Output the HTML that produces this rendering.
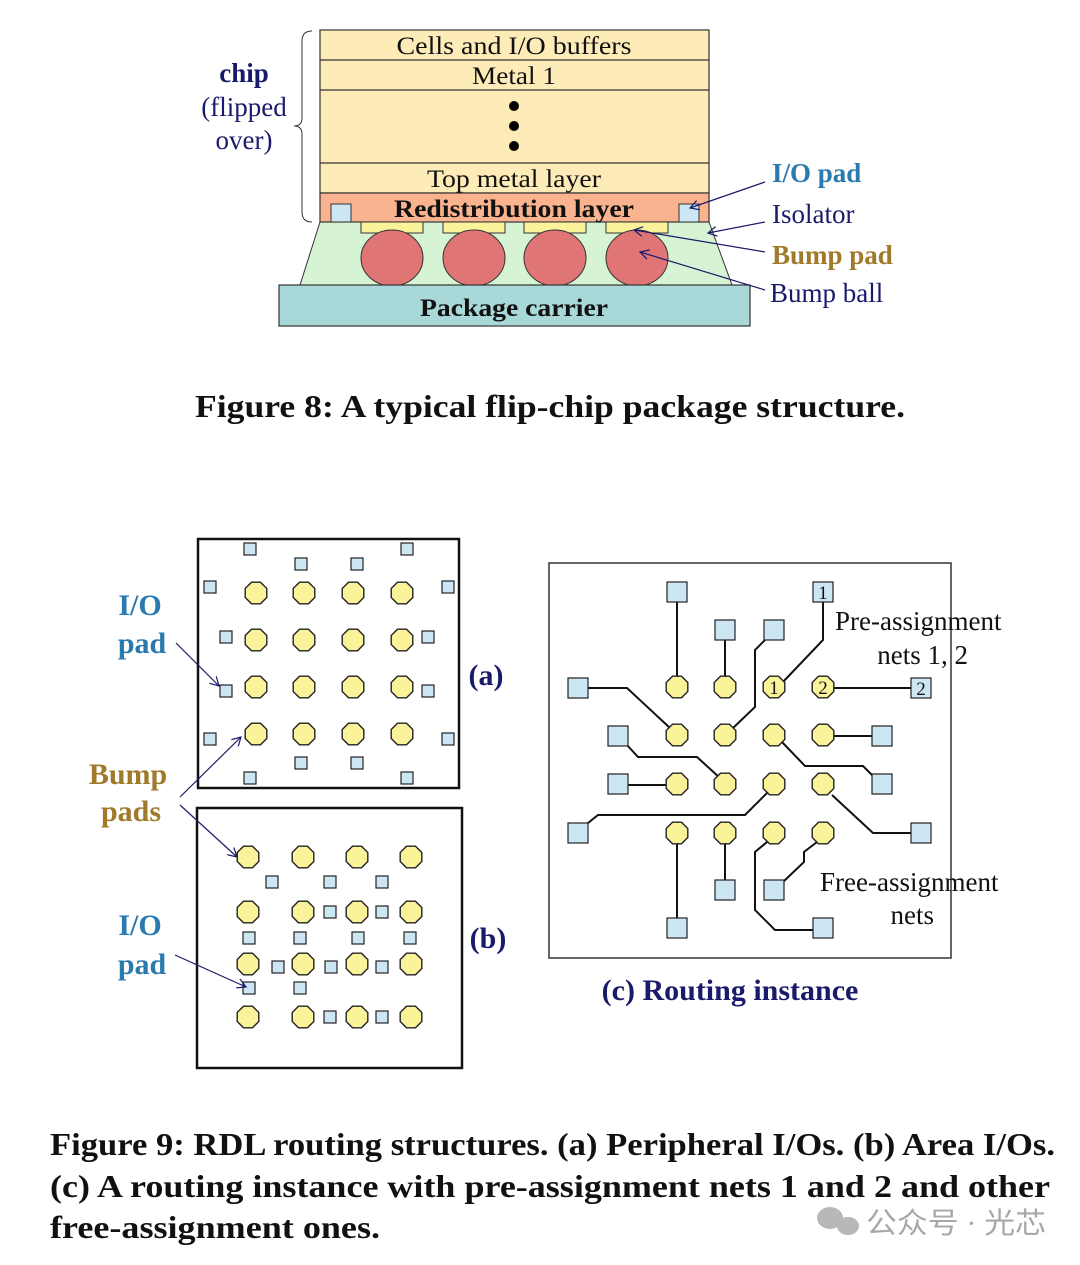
<!DOCTYPE html>
<html><head><meta charset="utf-8"><style>
html,body{margin:0;padding:0;background:#fff;}
svg{display:block;}
text{font-family:"Liberation Serif",serif;}
</style></head><body>
<svg width="1080" height="1265" viewBox="0 0 1080 1265" xmlns="http://www.w3.org/2000/svg">
<defs>
<polygon id="o" points="-4.5,-10.8 4.5,-10.8 10.8,-4.5 10.8,4.5 4.5,10.8 -4.5,10.8 -10.8,4.5 -10.8,-4.5" fill="#fbf39a" stroke="#222" stroke-width="1.4"/>
<rect id="s" x="-6" y="-6" width="12" height="12" fill="#cde6f4" stroke="#222" stroke-width="1.2"/>
<rect id="S" x="-10" y="-10" width="20" height="20" fill="#cde6f4" stroke="#222" stroke-width="1.2"/>
<marker id="ar" markerWidth="10" markerHeight="10" refX="9" refY="5" orient="auto" markerUnits="userSpaceOnUse"><path d="M0,0 L9,5 L0,10" fill="none" stroke="#1a1a6a" stroke-width="1.2"/></marker>
</defs>

<!-- Figure 8 -->
<polygon points="320,222 709,222 732,285 300,285" fill="#d6f3d3" stroke="#333" stroke-width="1"/>
<rect x="320" y="30" width="389" height="163" fill="#fdebb8" stroke="#333" stroke-width="1.2"/>
<line x1="320" y1="60" x2="709" y2="60" stroke="#333" stroke-width="1.2"/>
<line x1="320" y1="90" x2="709" y2="90" stroke="#333" stroke-width="1.2"/>
<line x1="320" y1="163" x2="709" y2="163" stroke="#333" stroke-width="1.2"/>
<rect x="320" y="193" width="389" height="29" fill="#f9b38f" stroke="#333" stroke-width="1.2"/>
<rect x="331" y="204" width="20" height="18" fill="#cde6f4" stroke="#333"/>
<rect x="679" y="204" width="20" height="18" fill="#cde6f4" stroke="#333"/>
<g fill="#fbf39a" stroke="#333">
<rect x="361" y="222" width="62" height="11"/><rect x="443" y="222" width="62" height="11"/>
<rect x="524" y="222" width="62" height="11"/><rect x="606" y="222" width="62" height="11"/>
</g>
<g fill="#e07575" stroke="#333">
<ellipse cx="392" cy="258" rx="31" ry="28"/><ellipse cx="474" cy="258" rx="31" ry="28"/>
<ellipse cx="555" cy="258" rx="31" ry="28"/><ellipse cx="637" cy="258" rx="31" ry="28"/>
</g>
<rect x="279" y="285" width="471" height="41" fill="#a8d8d8" stroke="#333" stroke-width="1.2"/>
<g font-size="25" text-anchor="middle" fill="#111">
<text x="514" y="54" textLength="235" lengthAdjust="spacingAndGlyphs">Cells and I/O buffers</text>
<text x="514" y="84" textLength="84" lengthAdjust="spacingAndGlyphs">Metal 1</text>
<text x="514" y="187" textLength="174" lengthAdjust="spacingAndGlyphs">Top metal layer</text>
<text x="514" y="217" font-weight="bold" textLength="240" lengthAdjust="spacingAndGlyphs">Redistribution layer</text>
<text x="514" y="316" font-weight="bold" textLength="188" lengthAdjust="spacingAndGlyphs">Package carrier</text>
</g>
<circle cx="514" cy="106" r="5" fill="#000"/><circle cx="514" cy="126" r="5" fill="#000"/><circle cx="514" cy="146" r="5" fill="#000"/>
<path d="M312,31 Q302,31 302,41 L302,118 Q302,126 294,126 Q302,126 302,134 L302,212 Q302,222 312,222" fill="none" stroke="#333" stroke-width="1"/>
<g font-size="27" text-anchor="middle" fill="#1a1a6a">
<text x="244" y="82" font-weight="bold">chip</text>
<text x="244" y="116">(flipped</text>
<text x="244" y="149">over)</text>
</g>
<g font-size="27">
<text x="772" y="182" font-weight="bold" fill="#2a7ab0">I/O pad</text>
<text x="772" y="223" fill="#1a1a6a">Isolator</text>
<text x="772" y="264" font-weight="bold" fill="#a07a2a">Bump pad</text>
<text x="770" y="302" fill="#1a1a6a">Bump ball</text>
</g>
<g stroke="#1a1a6a" stroke-width="1.2" fill="none" marker-end="url(#ar)">
<line x1="765" y1="182" x2="690" y2="208"/>
<line x1="765" y1="222" x2="708" y2="233"/>
<line x1="765" y1="252" x2="634" y2="230"/>
<line x1="765" y1="290" x2="640" y2="252"/>
</g>
<text x="195" y="417" font-size="32" font-weight="bold" fill="#111" textLength="710" lengthAdjust="spacingAndGlyphs">Figure 8: A typical flip-chip package structure.</text>

<!-- Figure 9 (a) -->
<rect x="198" y="539" width="261" height="249" fill="#fff" stroke="#111" stroke-width="2.5"/>
<g>
<use href="#o" x="256" y="593"/><use href="#o" x="304" y="593"/><use href="#o" x="353" y="593"/><use href="#o" x="402" y="593"/>
<use href="#o" x="256" y="640"/><use href="#o" x="304" y="640"/><use href="#o" x="353" y="640"/><use href="#o" x="402" y="640"/>
<use href="#o" x="256" y="687"/><use href="#o" x="304" y="687"/><use href="#o" x="353" y="687"/><use href="#o" x="402" y="687"/>
<use href="#o" x="256" y="734"/><use href="#o" x="304" y="734"/><use href="#o" x="353" y="734"/><use href="#o" x="402" y="734"/>
<use href="#s" x="250" y="549"/><use href="#s" x="407" y="549"/><use href="#s" x="301" y="564"/><use href="#s" x="357" y="564"/>
<use href="#s" x="210" y="587"/><use href="#s" x="448" y="587"/><use href="#s" x="226" y="637"/><use href="#s" x="428" y="637"/>
<use href="#s" x="226" y="691"/><use href="#s" x="428" y="691"/><use href="#s" x="210" y="739"/><use href="#s" x="448" y="739"/>
<use href="#s" x="301" y="763"/><use href="#s" x="357" y="763"/><use href="#s" x="250" y="778"/><use href="#s" x="407" y="778"/>
</g>
<!-- (b) -->
<rect x="197" y="808" width="265" height="260" fill="#fff" stroke="#111" stroke-width="2.5"/>
<g>
<use href="#o" x="248" y="857"/><use href="#o" x="303" y="857"/><use href="#o" x="357" y="857"/><use href="#o" x="411" y="857"/>
<use href="#o" x="248" y="912"/><use href="#o" x="303" y="912"/><use href="#o" x="357" y="912"/><use href="#o" x="411" y="912"/>
<use href="#o" x="248" y="964"/><use href="#o" x="303" y="964"/><use href="#o" x="357" y="964"/><use href="#o" x="411" y="964"/>
<use href="#o" x="248" y="1017"/><use href="#o" x="303" y="1017"/><use href="#o" x="357" y="1017"/><use href="#o" x="411" y="1017"/>
<use href="#s" x="272" y="882"/><use href="#s" x="330" y="882"/><use href="#s" x="382" y="882"/>
<use href="#s" x="330" y="912"/><use href="#s" x="382" y="912"/>
<use href="#s" x="249" y="938"/><use href="#s" x="300" y="938"/><use href="#s" x="358" y="938"/><use href="#s" x="410" y="938"/>
<use href="#s" x="278" y="967"/><use href="#s" x="331" y="967"/><use href="#s" x="382" y="967"/>
<use href="#s" x="249" y="988"/><use href="#s" x="300" y="988"/>
<use href="#s" x="330" y="1017"/><use href="#s" x="382" y="1017"/>
</g>
<g font-size="30" font-weight="bold" text-anchor="middle">
<text x="140" y="615" fill="#2a7ab0">I/O</text>
<text x="142" y="653" fill="#2a7ab0">pad</text>
<text x="128" y="784" fill="#a07a2a">Bump</text>
<text x="131" y="821" fill="#a07a2a">pads</text>
<text x="140" y="935" fill="#2a7ab0">I/O</text>
<text x="142" y="974" fill="#2a7ab0">pad</text>
<text x="486" y="685" fill="#1a1a6a">(a)</text>
<text x="488" y="948" fill="#1a1a6a">(b)</text>
</g>
<g stroke="#1a1a6a" stroke-width="1.2" fill="none" marker-end="url(#ar)">
<line x1="176" y1="643" x2="219" y2="686"/>
<line x1="180" y1="797" x2="241" y2="737"/>
<line x1="180" y1="805" x2="237" y2="857"/>
<line x1="175" y1="955" x2="246" y2="987"/>
</g>

<!-- (c) -->
<rect x="549" y="563" width="402" height="395" fill="#fff" stroke="#333" stroke-width="1.5"/>
<g stroke="#111" stroke-width="2" fill="none">
<polyline points="677,602 677,678"/>
<polyline points="725,640 725,678"/>
<polyline points="765,640 755,650 755,707 733,728"/>
<polyline points="823,602 823,640 782,683"/>
<polyline points="833,688 911,688"/>
<polyline points="588,688 627,688 670,728"/>
<polyline points="627,745 638,757 697,757 720,778"/>
<polyline points="628,785 667,785"/>
<polyline points="833,736 872,736"/>
<polyline points="782,742 805,766 863,766 873,776"/>
<polyline points="832,795 873,833 911,833"/>
<polyline points="588,823 598,815 745,815 768,792"/>
<polyline points="677,843 677,920"/>
<polyline points="725,843 725,882"/>
<polyline points="767,842 755,852 755,910 775,930 813,930"/>
<polyline points="817,842 804,852 804,862 783,882"/>
</g>
<g>
<use href="#o" x="677" y="687"/><use href="#o" x="725" y="687"/><use href="#o" x="774" y="687"/><use href="#o" x="823" y="687"/>
<use href="#o" x="677" y="735"/><use href="#o" x="725" y="735"/><use href="#o" x="774" y="735"/><use href="#o" x="823" y="735"/>
<use href="#o" x="677" y="784"/><use href="#o" x="725" y="784"/><use href="#o" x="774" y="784"/><use href="#o" x="823" y="784"/>
<use href="#o" x="677" y="833"/><use href="#o" x="725" y="833"/><use href="#o" x="774" y="833"/><use href="#o" x="823" y="833"/>
<use href="#S" x="677" y="592"/><use href="#S" x="725" y="630"/><use href="#S" x="774" y="630"/><use href="#S" x="823" y="592"/>
<use href="#S" x="578" y="688"/><use href="#S" x="921" y="688"/>
<use href="#S" x="618" y="736"/><use href="#S" x="882" y="736"/>
<use href="#S" x="618" y="784"/><use href="#S" x="882" y="784"/>
<use href="#S" x="578" y="833"/><use href="#S" x="921" y="833"/>
<use href="#S" x="725" y="890"/><use href="#S" x="774" y="890"/>
<use href="#S" x="677" y="928"/><use href="#S" x="823" y="928"/>
</g>
<g font-size="19" text-anchor="middle" fill="#111">
<text x="823" y="599">1</text><text x="921" y="695">2</text>
<text x="774" y="694">1</text><text x="823" y="694">2</text>
</g>
<g font-size="27" fill="#111">
<text x="835" y="630">Pre-assignment</text>
<text x="968" y="664" text-anchor="end">nets 1, 2</text>
<text x="820" y="891">Free-assignment</text>
<text x="934" y="924" text-anchor="end">nets</text>
</g>
<text x="730" y="1000" font-size="30" font-weight="bold" text-anchor="middle" fill="#1a1a6a">(c) Routing instance</text>

<!-- caption -->
<g font-size="32" font-weight="bold" fill="#111">
<text x="50" y="1155" textLength="1005" lengthAdjust="spacingAndGlyphs">Figure 9: RDL routing structures. (a) Peripheral I/Os. (b) Area I/Os.</text>
<text x="50" y="1197" textLength="1000" lengthAdjust="spacingAndGlyphs">(c) A routing instance with pre-assignment nets 1 and 2 and other</text>
<text x="50" y="1238" textLength="330" lengthAdjust="spacingAndGlyphs">free-assignment ones.</text>
</g>
<g fill="#b8b8b8">
<ellipse cx="830" cy="1218" rx="13" ry="11"/><ellipse cx="848" cy="1226" rx="11" ry="9"/>
</g>
<text x="866" y="1233" font-size="29" fill="#a8a8a8" font-family="'Noto Sans CJK SC',sans-serif" textLength="180" lengthAdjust="spacingAndGlyphs">公众号 · 光芯</text>
</svg>
</body></html>
